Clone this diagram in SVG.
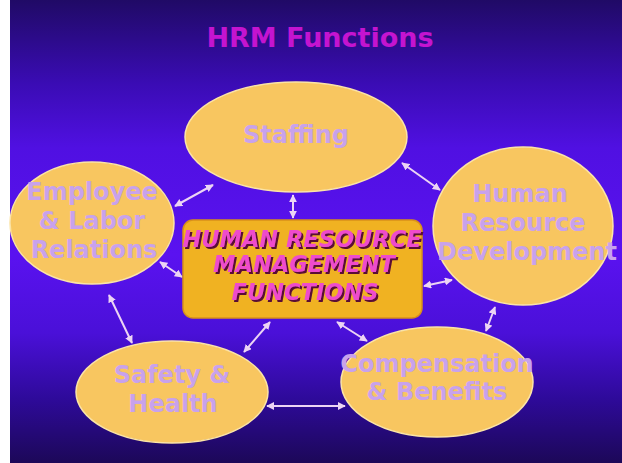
<svg xmlns="http://www.w3.org/2000/svg" width="622" height="463" viewBox="0 0 622 463">
  <defs>
    <linearGradient id="bg" x1="0" y1="0" x2="0" y2="1">
      <stop offset="0" stop-color="#200a66"/>
      <stop offset="0.18" stop-color="#3a0cb4"/>
      <stop offset="0.32" stop-color="#5010e2"/>
      <stop offset="0.55" stop-color="#5a12f0"/>
      <stop offset="0.72" stop-color="#4a10d8"/>
      <stop offset="0.86" stop-color="#2e0a9a"/>
      <stop offset="1" stop-color="#1c0858"/>
    </linearGradient>
    <filter id="sh" x="-5%" y="-20%" width="110%" height="140%">
      <feDropShadow dx="2" dy="2" stdDeviation="0.3" flood-color="#5a1036" flood-opacity="1"/>
    </filter>
    <marker id="ah" viewBox="0 0 10 10" refX="9" refY="5" markerWidth="4" markerHeight="4" orient="auto-start-reverse">
      <path d="M0,0 L10,5 L0,10 z" fill="#ecd4f4"/>
    </marker>
  </defs>
  <style>
    .ell { fill: #f8c660; stroke: #fbe4a6; stroke-width: 1.5; }
    .lbl { font-family: "DejaVu Sans", Verdana, sans-serif; font-weight: bold; font-size: 24px; fill: #c8a2ec; text-anchor: middle; }
    .title { font-family: "DejaVu Sans", Verdana, sans-serif; font-weight: bold; font-size: 27px; fill: #c414d0; text-anchor: middle; }
    .ctr { font-family: "DejaVu Sans", Verdana, sans-serif; font-weight: bold; font-style: italic; font-size: 22.5px; text-anchor: middle; fill: #ee4ccc; filter: url(#sh); }
    .conn line { stroke: #ecd4f4; stroke-width: 2; marker-start: url(#ah); marker-end: url(#ah); }
  </style>

  <rect x="0" y="0" width="622" height="463" fill="url(#bg)"/>
  <rect x="0" y="0" width="10" height="463" fill="#ffffff"/>

  <text class="title" x="320" y="47">HRM Functions</text>

  <g id="connectors" class="conn">
    <line x1="293" y1="195" x2="293" y2="218"/>
    <line x1="175" y1="206" x2="213" y2="185"/>
    <line x1="402" y1="163" x2="440" y2="190"/>
    <line x1="160" y1="262" x2="182" y2="277"/>
    <line x1="424" y1="286" x2="452" y2="280"/>
    <line x1="495" y1="307" x2="486" y2="331"/>
    <line x1="337" y1="322" x2="367" y2="341"/>
    <line x1="270" y1="322" x2="244" y2="352"/>
    <line x1="109" y1="295" x2="132" y2="343"/>
    <line x1="267" y1="406" x2="345" y2="406"/>
  </g>

  <g id="staffing">
    <ellipse class="ell" cx="296" cy="137" rx="111" ry="55"/>
    <text class="lbl" x="296" y="143">Staffing</text>
  </g>

  <g id="employee-labor-relations">
    <ellipse class="ell" cx="92" cy="223" rx="82" ry="61"/>
    <text class="lbl" x="92" y="200">Employee</text>
    <text class="lbl" x="92" y="229">&amp; Labor</text>
    <text class="lbl" x="94" y="258">Relations</text>
  </g>

  <g id="human-resource-development">
    <ellipse class="ell" cx="523" cy="226" rx="90" ry="79"/>
    <text class="lbl" x="520" y="202">Human</text>
    <text class="lbl" x="523" y="231">Resource</text>
    <text class="lbl" x="527" y="260">Development</text>
  </g>

  <g id="safety-health">
    <ellipse class="ell" cx="172" cy="392" rx="96" ry="51"/>
    <text class="lbl" x="172" y="383">Safety &amp;</text>
    <text class="lbl" x="173" y="412">Health</text>
  </g>

  <g id="compensation-benefits">
    <ellipse class="ell" cx="437" cy="382" rx="96" ry="55"/>
    <text class="lbl" x="437" y="372">Compensation</text>
    <text class="lbl" x="437" y="400">&amp; Benefits</text>
  </g>

  <g id="hrm-functions-center">
    <rect x="183" y="220" width="239" height="98" rx="10" ry="10" fill="#f0b222" stroke="#d8901a" stroke-width="1.5"/>
    <text class="ctr" x="302" y="247">HUMAN RESOURCE</text>
    <text class="ctr" x="304" y="272">MANAGEMENT</text>
    <text class="ctr" x="305" y="300">FUNCTIONS</text>
  </g>
</svg>
